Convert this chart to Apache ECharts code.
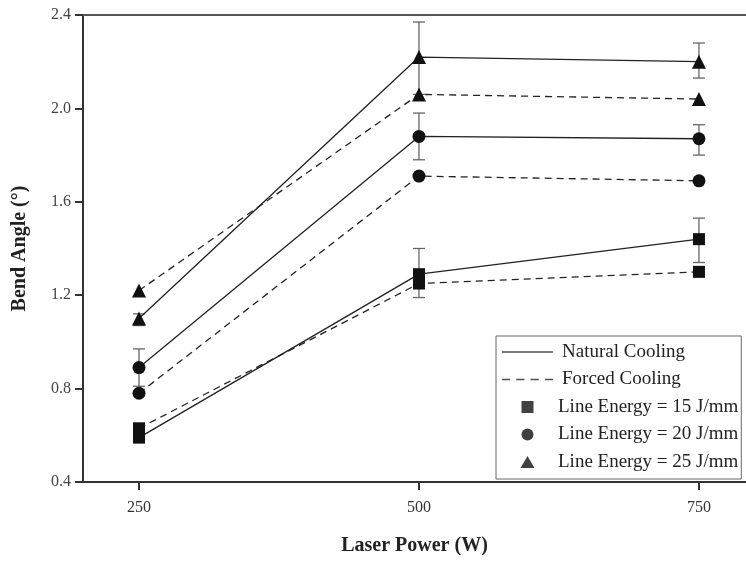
<!DOCTYPE html>
<html>
<head>
<meta charset="utf-8">
<script src="https://cdn.jsdelivr.net/npm/echarts@6/dist/echarts.min.js"></script>
<style>html,body{margin:0;padding:0;background:#fff}#c{width:746px;height:561px}</style>
</head>
<body>
<div id="c"></div>
<script>
var powers = [250, 500, 750];
var xTicks = [250, 500, 750];

var natural15 = [0.59, 1.29, 1.44];
var natural20 = [0.89, 1.88, 1.87];
var natural25 = [1.10, 2.22, 2.20];
var forced15 = [0.63, 1.25, 1.30];
var forced20 = [0.78, 1.71, 1.69];
var forced25 = [1.22, 2.06, 2.04];

var err15Low = [0.57, 1.19, 1.34];
var err15High = [0.61, 1.40, 1.53];
var err20Low = [0.81, 1.78, 1.80];
var err20High = [0.97, 1.98, 1.93];
var err25Low = [1.07, 2.06, 2.13];
var err25High = [1.12, 2.37, 2.28];

var legendNames = ['Natural Cooling', 'Forced Cooling', 'Line Energy = 15 J/mm', 'Line Energy = 20 J/mm', 'Line Energy = 25 J/mm'];

var FONT = 'Liberation Serif';

function pairs(vals) { return powers.map(function (p, i) { return [p, vals[i]]; }); }
function errData(lo, hi) { return powers.map(function (p, i) { return [p, lo[i], hi[i]]; }); }

function lineSeries(vals, dashed, sym, size) {
  return {
    type: 'line', data: pairs(vals), symbol: sym, symbolSize: size,
    itemStyle: { color: '#111' },
    lineStyle: { color: '#222', width: 1.3, type: dashed ? [7, 5] : 'solid' },
    z: 3, silent: true
  };
}

function errSeries(lo, hi) {
  return {
    type: 'custom', data: errData(lo, hi), z: 2, silent: true,
    renderItem: function (params, api) {
      var x = api.value(0);
      var p1 = api.coord([x, api.value(1)]);
      var p2 = api.coord([x, api.value(2)]);
      var w = 6;
      var st = { stroke: '#666', lineWidth: 1.3 };
      return {
        type: 'group', children: [
          { type: 'line', shape: { x1: p1[0], y1: p1[1], x2: p2[0], y2: p2[1] }, style: st },
          { type: 'line', shape: { x1: p1[0] - w, y1: p1[1], x2: p1[0] + w, y2: p1[1] }, style: st },
          { type: 'line', shape: { x1: p2[0] - w, y1: p2[1], x2: p2[0] + w, y2: p2[1] }, style: st }
        ]
      };
    }
  };
}

var SOLID_ICON = 'path://M0,0H51V1.3H0Z';
var DASH_ICON = 'path://M0,0H8V1.3H0Z M14,0H22V1.3H14Z M28,0H36V1.3H28Z M42,0H50V1.3H42Z';
var SQUARE_ICON = 'path://M0,0H12V12H0Z';
var TRI_ICON = 'path://M7,0L14,12L0,12Z';

var chart = echarts.init(document.getElementById('c'));
chart.setOption({
  animation: false,
  backgroundColor: '#fff',
  grid: { left: 83, top: 15, right: 0, bottom: 77 },
  xAxis: [{
    type: 'value', min: 200, max: 792,
    name: 'Laser Power (W)', nameLocation: 'middle', nameGap: 54,
    nameTextStyle: { fontFamily: FONT, fontWeight: 'bold', fontSize: 20, color: '#222' },
    axisLine: { lineStyle: { color: '#333', width: 2 } },
    axisTick: { customValues: xTicks, length: 8, lineStyle: { color: '#333', width: 2 } },
    axisLabel: { customValues: xTicks, fontFamily: FONT, fontSize: 16, color: '#333', margin: 18 },
    splitLine: { show: false }
  }, {
    type: 'value', position: 'top', min: 200, max: 792,
    axisLine: { show: true, onZero: false, lineStyle: { color: '#555', width: 2 } },
    axisTick: { show: false }, axisLabel: { show: false }, splitLine: { show: false }
  }],
  yAxis: {
    type: 'value', min: 0.4, max: 2.4, interval: 0.4,
    name: 'Bend Angle (°)', nameLocation: 'middle', nameGap: 53,
    nameTextStyle: { fontFamily: FONT, fontWeight: 'bold', fontSize: 20, color: '#222' },
    axisLine: { show: true, lineStyle: { color: '#333', width: 2 } },
    axisTick: { length: 8, lineStyle: { color: '#333', width: 2 } },
    axisLabel: { fontFamily: FONT, fontSize: 16, color: '#444', margin: 12, formatter: function (v) { return v.toFixed(1); } },
    splitLine: { show: false }
  },
  legend: {
    data: [
      { name: legendNames[0], icon: SOLID_ICON, textStyle: { padding: [0, 0, 0, 4] } },
      { name: legendNames[1], icon: DASH_ICON, textStyle: { padding: [0, 0, 0, 4] } },
      { name: legendNames[2], icon: SQUARE_ICON },
      { name: legendNames[3], icon: 'circle' },
      { name: legendNames[4], icon: TRI_ICON }
    ],
    orient: 'vertical', left: 496, top: 336,
    backgroundColor: '#fff', borderColor: '#666', borderWidth: 1,
    padding: [6, 3, 7, 6], itemGap: 7.5, itemWidth: 51, itemHeight: 12,
    selectedMode: false, symbolKeepAspect: true,
    textStyle: { fontFamily: FONT, fontSize: 19, lineHeight: 20, color: '#222' }
  },
  series: [
    errSeries(err15Low, err15High),
    errSeries(err20Low, err20High),
    errSeries(err25Low, err25High),
    lineSeries(natural15, false, 'rect', 12),
    lineSeries(natural20, false, 'circle', 13),
    lineSeries(natural25, false, 'triangle', 14),
    lineSeries(forced15, true, 'rect', 12),
    lineSeries(forced20, true, 'circle', 13),
    lineSeries(forced25, true, 'triangle', 14),
    { name: legendNames[0], type: 'scatter', data: [], itemStyle: { color: '#222' } },
    { name: legendNames[1], type: 'scatter', data: [], itemStyle: { color: '#222' } },
    { name: legendNames[2], type: 'scatter', data: [], itemStyle: { color: '#111' } },
    { name: legendNames[3], type: 'scatter', data: [], itemStyle: { color: '#111' } },
    { name: legendNames[4], type: 'scatter', data: [], itemStyle: { color: '#111' } }
  ]
});
</script>
</body>
</html>
